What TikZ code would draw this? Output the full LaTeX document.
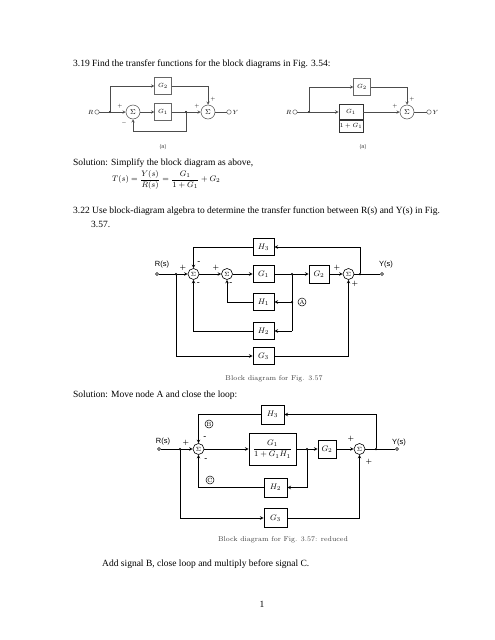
\documentclass[tikz,border=0pt]{standalone}
\usepackage{fontspec}
\newfontfamily\timesfont{Liberation Serif}
\setsansfont{Liberation Sans}
\usetikzlibrary{shapes,arrows,positioning,calc}

\begin{document}
\begin{tikzpicture}[x=1pt, y=-1pt,
    txt/.style={anchor=west, inner sep=0pt, font=\timesfont\fontsize{9.5}{11}\selectfont},
    sblock/.style={rectangle, draw=black!60, line width=0.4pt, minimum width=17pt, minimum height=17pt, inner sep=0pt, font=\fontsize{6}{7}\selectfont},
    ssum/.style={circle, draw=black!70, line width=0.5pt, minimum size=14pt, inner sep=0pt, font=\fontsize{7.5}{8}\selectfont},
    sline/.style={draw=black!70, line width=0.45pt},
    sarrow/.style={sline, ->, >=stealth},
    sdot/.style={circle, fill=black, inner sep=0pt, minimum size=2.2pt},
    sport/.style={circle, draw=black!70, fill=white, inner sep=0pt, minimum size=4.5pt, line width=0.4pt},
    slabel/.style={inner sep=1pt, font=\fontsize{6}{7}\selectfont},
    ssign/.style={inner sep=0pt, font=\fontsize{5}{5}\selectfont},
    block/.style={rectangle, draw, line width=0.9pt, minimum width=21pt, minimum height=17pt, inner sep=0pt, font=\fontsize{8}{9}\selectfont},
    sum/.style={circle, draw, line width=0.6pt, minimum size=11pt, inner sep=0pt, font=\fontsize{6.5}{6.5}\selectfont},
    line/.style={line width=0.6pt},
    arrow/.style={line width=0.6pt, ->, >=stealth},
    dot/.style={circle, fill=black, inner sep=0pt, minimum size=2.5pt},
    port/.style={circle, draw, fill=white, inner sep=0pt, minimum size=3pt, line width=0.5pt},
    sig/.style={inner sep=0pt, font=\fontsize{6.5}{6.5}\selectfont\bfseries},
    tag/.style={circle, draw, inner sep=0pt, minimum size=8pt, line width=0.5pt, font=\fontsize{6}{6}\selectfont},
    caption/.style={inner sep=0pt, text=black!75, font=\fontsize{7}{8}\selectfont},
    io/.style={inner sep=0pt, font=\sffamily\fontsize{7.5}{8}\selectfont},
    sub/.style={inner sep=0pt, text=black!70, font=\sffamily\fontsize{5.5}{6}\selectfont}
]
    \useasboundingbox (0,0) rectangle (495,640);

    % Aufgabe 3.19
    \node[txt] (q319) at (73,64) {3.19 Find the transfer functions for the block diagrams in Fig. 3.54:};

    % Bild (a) links
    \node[sport] (rA) at (97,112) {};
    \node[slabel, anchor=east] (rAlab) at (rA.west) {$R$};
    \node[sdot] (dA1) at (110,112) {};
    \node[ssum] (sA1) at (133,112) {$\Sigma$};
    \node[sblock] (gA1) at (163,112) {$G_1$};
    \node[sblock] (gA2) at (163,86) {$G_2$};
    \node[sdot] (dA2) at (186,112) {};
    \node[ssum] (sA2) at (208,112) {$\Sigma$};
    \node[sport] (yA) at (229,112) {};
    \node[slabel, anchor=west] (yAlab) at (yA.east) {$Y$};
    \coordinate (fbA) at (186,131);
    \node[ssign] (pA1) at (120,106) {$+$};
    \node[ssign] (mA1) at (124,123) {$-$};
    \node[ssign] (pA2) at (197,106) {$+$};
    \node[ssign] (pA3) at (213,99) {$+$};
    \node[sub] (capA) at (163,147) {(a)};

    \draw[sline] (rA) -- (dA1);
    \draw[sarrow] (dA1) -- (sA1);
    \draw[sarrow] (sA1) -- (gA1);
    \draw[sline] (gA1) -- (dA2);
    \draw[sarrow] (dA2) -- (sA2);
    \draw[sline] (sA2) -- (yA);
    \draw[sarrow] (dA1) |- (gA2);
    \draw[sarrow] (gA2) -| (sA2);
    \draw[sarrow] (dA2) -- (fbA) -| (sA1);

    % Bild (a) rechts
    \node[sport] (rB) at (295,112) {};
    \node[slabel, anchor=east] (rBlab) at (rB.west) {$R$};
    \node[sdot] (dB1) at (309,112) {};
    \node[sblock, draw=black!80, line width=0.7pt, minimum width=24pt, minimum height=15pt] (gB1) at (351,112) {$G_1$};
    \node[sblock, draw=black!80, line width=0.7pt, minimum width=24pt, minimum height=12pt, below=0pt of gB1] (gB2) {$1+G_1$};
    \node[sblock] (gB3) at (362,87) {$G_2$};
    \node[ssum] (sB) at (407,112) {$\Sigma$};
    \node[sport] (yB) at (429,112) {};
    \node[slabel, anchor=west] (yBlab) at (yB.east) {$Y$};
    \node[ssign] (pB1) at (395,106) {$+$};
    \node[ssign] (pB2) at (412,99) {$+$};
    \node[sub] (capB) at (363,147) {(a)};

    \draw[sline] (rB) -- (dB1);
    \draw[sarrow, line width=0.6pt] (dB1) -- (gB1);
    \draw[sarrow] (gB1) -- (sB);
    \draw[sline] (sB) -- (yB);
    \draw[sarrow] (dB1) |- (gB3);
    \draw[sarrow] (gB3) -| (sB);

    % Loesung 3.19
    \node[txt] (sol319) at (73,163) {Solution: Simplify the block diagram as above,};
    \node[anchor=west, inner sep=0pt, font=\fontsize{8.5}{9}\selectfont] (tf) at (112,180)
        {$T(s)=\displaystyle\frac{Y(s)}{R(s)}=\frac{G_1}{1+G_1}+G_2$};

    % Aufgabe 3.22
    \node[txt] (q322) at (73,211) {3.22 Use block-diagram algebra to determine the transfer function between R(s) and Y(s) in Fig.};
    \node[txt] (q322b) at (91,224) {3.57.};

    % Blockbild 3.57
    \node[port] (rC) at (157,274) {};
    \node[io] (rClab) at (162,265) {R(s)};
    \node[dot] (dC1) at (176,274) {};
    \node[sum] (sC1) at (193.5,274) {$\Sigma$};
    \node[sum] (sC2) at (227,274) {$\Sigma$};
    \node[block] (g1C) at (263.5,274) {$G_1$};
    \node[dot] (dC2) at (292,274) {};
    \node[block, minimum width=20pt, minimum height=18pt] (g2C) at (319,274) {$G_2$};
    \node[sum] (sC3) at (348.5,274) {$\Sigma$};
    \node[dot] (dC3) at (360,274) {};
    \node[port] (yC) at (382,274) {};
    \node[io] (yClab) at (386,265) {Y(s)};
    \node[block] (h3C) at (263.5,247) {$H_3$};
    \node[block] (h1C) at (263.5,302) {$H_1$};
    \node[dot] (dC4) at (292,302) {};
    \node[tag] (tagA) at (302,302) {A};
    \node[block] (h2C) at (263.5,331) {$H_2$};
    \node[block] (g3C) at (263.5,356) {$G_3$};
    \coordinate (cC1) at (292,331);
    \node[sig] (pC1) at (183,267.5) {+};
    \node[sig] (mC1) at (199,263) {-};
    \node[sig] (mC2) at (198.5,284) {-};
    \node[sig] (pC2) at (216,267.5) {+};
    \node[sig] (mC3) at (231,284) {-};
    \node[sig] (pC3) at (337,267.5) {+};
    \node[sig] (pC4) at (355,284) {+};
    \node[caption] (capC) at (274,379) {Block diagram for Fig. 3.57};

    \draw[line] (rC) -- (dC1);
    \draw[arrow] (dC1) -- (sC1);
    \draw[arrow] (sC1) -- (sC2);
    \draw[arrow] (sC2) -- (g1C);
    \draw[line] (g1C) -- (dC2);
    \draw[arrow] (dC2) -- (g2C);
    \draw[arrow] (g2C) -- (sC3);
    \draw[line] (sC3) -- (yC);
    \draw[arrow] (dC3) |- (h3C);
    \draw[arrow] (h3C) -| (sC1);
    \draw[line] (dC2) -- (cC1);
    \draw[arrow] (dC4) -- (h1C);
    \draw[arrow] (h1C) -| (sC2);
    \draw[arrow] (cC1) -- (h2C);
    \draw[arrow] (h2C) -| (sC1);
    \draw[arrow] (dC1) |- (g3C);
    \draw[arrow] (g3C) -| (sC3);

    % Loesung 3.22
    \node[txt] (sol322) at (73,395) {Solution: Move node A and close the loop:};

    % reduziertes Blockbild
    \node[port] (rD) at (159,449) {};
    \node[io] (rDlab) at (163,442) {R(s)};
    \node[dot] (dD1) at (180,449) {};
    \node[sum] (sD1) at (198.5,449) {$\Sigma$};
    \node[block, minimum width=47pt, minimum height=32pt] (gD) at (272.5,449) {$\displaystyle\frac{G_1}{1+G_1H_1}$};
    \node[dot] (dD2) at (307,449) {};
    \node[block, minimum width=18pt, minimum height=18pt] (g2D) at (327,449) {$G_2$};
    \node[sum] (sD2) at (359.5,449) {$\Sigma$};
    \node[dot] (dD3) at (376,449) {};
    \node[port] (yD) at (397,449) {};
    \node[io] (yDlab) at (399,443) {Y(s)};
    \node[block, minimum width=23pt, minimum height=19pt] (h3D) at (272.5,414.5) {$H_3$};
    \node[tag] (tagB) at (209,424) {B};
    \node[block, minimum width=23pt, minimum height=19pt] (h2D) at (275.5,487.5) {$H_2$};
    \node[tag] (tagC) at (210,480) {C};
    \node[block, minimum width=23pt, minimum height=19pt] (g3D) at (275.5,518) {$G_3$};
    \node[sig] (pD1) at (186,443) {+};
    \node[sig] (mD1) at (205,438) {-};
    \node[sig] (mD2) at (206,460) {-};
    \node[sig] (pD2) at (351,439) {+};
    \node[sig] (pD3) at (369,462) {+};
    \node[caption] (capD) at (283,540) {Block diagram for Fig. 3.57: reduced};

    \draw[line] (rD) -- (dD1);
    \draw[arrow] (dD1) -- (sD1);
    \draw[arrow] (sD1) -- (gD);
    \draw[line] (gD) -- (dD2);
    \draw[arrow] (dD2) -- (g2D);
    \draw[arrow] (g2D) -- (sD2);
    \draw[line] (sD2) -- (yD);
    \draw[arrow] (dD3) |- (h3D);
    \draw[arrow] (h3D) -| (sD1);
    \draw[arrow] (dD2) |- (h2D);
    \draw[arrow] (h2D) -| (sD1);
    \draw[arrow] (dD1) |- (g3D);
    \draw[arrow] (g3D) -| (sD2);

    \node[txt] (last) at (102,564) {Add signal B, close loop and multiply before signal C.};
    \node[txt, anchor=center] (pagenr) at (262,604) {1};

\end{tikzpicture}
\end{document}
